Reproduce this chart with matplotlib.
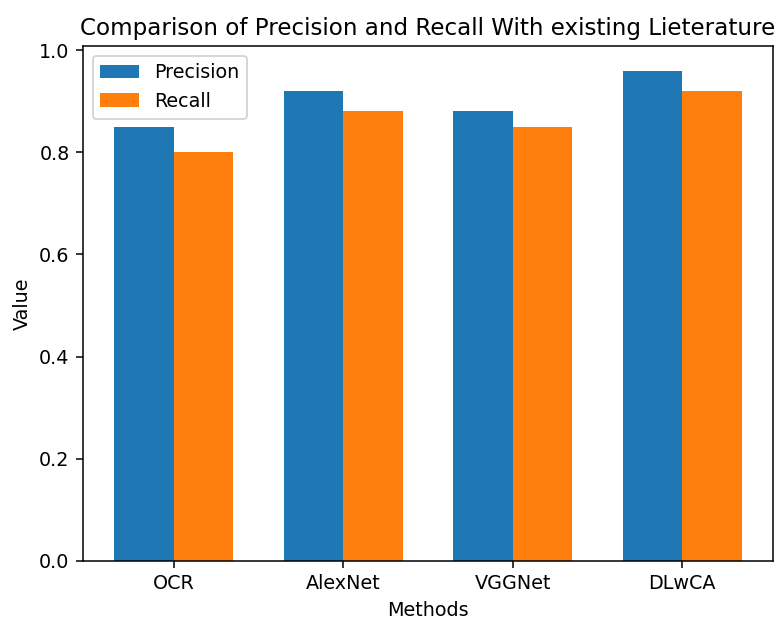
import numpy as np
import matplotlib
matplotlib.use("Agg")
import matplotlib.pyplot as plt

methods = ["OCR", "AlexNet", "VGGNet", "DLwCA"]
precision = [0.85, 0.92, 0.88, 0.96]
recall = [0.80, 0.88, 0.85, 0.92]

x = np.arange(len(methods))
width = 0.35

# reference looks like a default plot rendered at a higher dpi
DPI = 138
fig, ax = plt.subplots(figsize=(779 / DPI, 617 / DPI), dpi=DPI)
ax.bar(x, precision, width, label="Precision")
ax.bar(x + width, recall, width, label="Recall")

ax.set_xlabel("Methods")
ax.set_ylabel("Value")
ax.set_title("Comparison of Precision and Recall With existing Lieterature")
ax.set_xticks(x + width / 2)
ax.set_xticklabels(methods)
ax.legend()

fig.subplots_adjust(left=83 / 779, right=773 / 779, top=1 - 46 / 617, bottom=1 - 561 / 617)
fig.savefig("out.png", dpi=DPI)
